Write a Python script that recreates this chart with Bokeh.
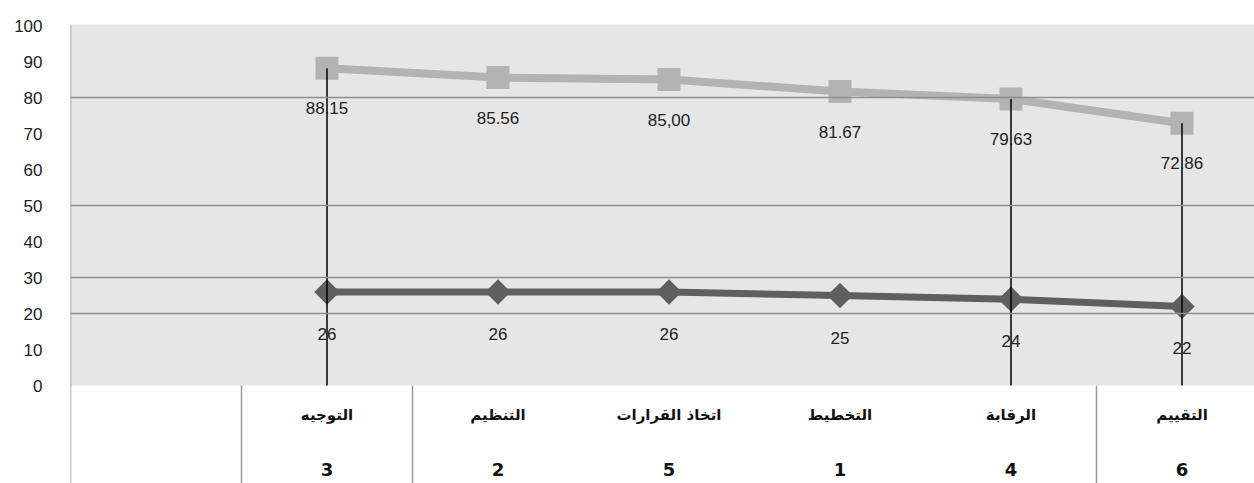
import numpy as np
from bokeh.plotting import figure
from bokeh.models import Range1d, FixedTicker, Span
from bokeh.core.properties import value
from bokeh.embed import file_html
from bokeh.resources import INLINE

# ---- data ----
categories = ["التوجيه", "التنظيم", "اتخاذ القرارات", "التخطيط", "الرقابة", "التقييم"]
ranks = ["3", "2", "5", "1", "4", "6"]
percent = [88.15, 85.56, 85.00, 81.67, 79.63, 72.86]
percent_labels = ["88.15", "85.56", "85,00", "81.67", "79.63", "72.86"]
scores = [26, 26, 26, 25, 24, 22]
score_labels = ["26", "26", "26", "25", "24", "22"]
drop_line_idx = [0, 4, 5]
table_border_idx = [0, 1, 2, 6]  # slot boundaries with table lines
y_ticks = list(range(0, 101, 10))
grid_values = [20, 30, 50, 80]

slot_px = 171.0
frame_w = 1254 - 70
x = [i + 1.5 for i in range(len(categories))]

p = figure(width=1254, height=483, output_backend="svg", toolbar_location=None,
           x_range=Range1d(0, frame_w / slot_px), y_range=Range1d(-27.2, 100.3),
           min_border_left=70, min_border_right=0, min_border_top=24, min_border_bottom=0)
p.outline_line_color = None
p.background_fill_color = "#e6e6e6"
p.border_fill_color = "white"
p.xaxis.visible = False
p.xgrid.visible = False
p.ygrid.visible = False

ax = p.yaxis[0]
ax.ticker = FixedTicker(ticks=y_ticks)
ax.axis_line_color = None
ax.major_tick_line_color = None
ax.minor_tick_line_color = None
ax.major_label_text_font = "Liberation Sans"
ax.major_label_text_font_size = "17px"
ax.major_label_text_color = "#222222"
ax.major_label_standoff = 22

# table area (white)
p.quad(left=[0], right=[frame_w / slot_px], bottom=[-27.2], top=[0], fill_color="white", line_color=None)

for g in grid_values:
    p.add_layout(Span(location=g, dimension="width", line_color="#8f8f8f", line_width=1.5))

# left border
p.segment(x0=[0], x1=[0], y0=[-27.2], y1=[100.3], line_color="#999999", line_width=1.5)
# table vertical lines
tb = [float(i) for i in table_border_idx[1:]]
p.segment(x0=tb, x1=tb, y0=[-27.2] * len(tb), y1=[0] * len(tb), line_color="#999999", line_width=1.5)

# series
p.line(x, percent, line_color="#b3b3b3", line_width=8)
p.scatter(x, percent, marker="square", size=23, fill_color="#b3b3b3", line_color=None)
p.line(x, scores, line_color="#5f5f5f", line_width=7)
p.scatter(x, scores, marker="square", angle=np.pi / 4, size=18, fill_color="#5f5f5f", line_color=None)

# drop lines
dx = [x[i] for i in drop_line_idx]
dy = [percent[i] for i in drop_line_idx]
p.segment(x0=dx, x1=dx, y0=dy, y1=[0] * len(dx), line_color="black", line_width=1.5)

# data labels
p.text(x, percent, text=percent_labels, y_offset=40, text_align="center", text_baseline="middle",
       text_font=value("Liberation Sans"), text_font_size="17px", text_color="#222222")
p.text(x, scores, text=score_labels, y_offset=42, text_align="center", text_baseline="middle",
       text_font=value("Liberation Sans"), text_font_size="17px", text_color="#222222")

# table text
zeros = [0] * len(x)
p.text(x, zeros, text=categories, y_offset=29, text_align="center", text_baseline="middle",
       text_font=value("DejaVu Sans"), text_font_size="15px", text_font_style="bold", text_color="#111111")
p.text(x, zeros, text=ranks, y_offset=84, text_align="center", text_baseline="middle",
       text_font=value("DejaVu Sans"), text_font_size="18px", text_font_style="bold", text_color="#111111")

open("out.html", "w").write(file_html(p, INLINE))
